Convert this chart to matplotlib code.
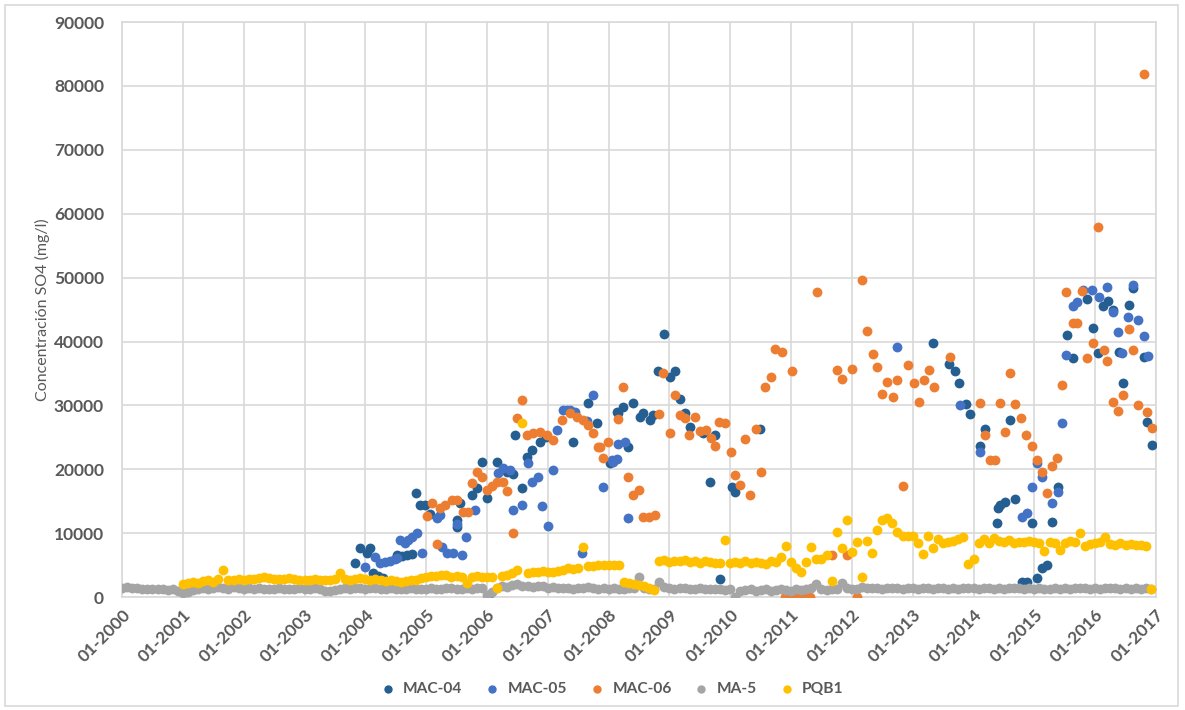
import numpy as np
import matplotlib
matplotlib.use('Agg')
import matplotlib.pyplot as plt
from matplotlib.patches import Rectangle

plt.rcParams['font.family'] = ['Lato', 'DejaVu Sans']

# MAC-04 (fecha en años decimales, SO4 mg/l)
mac04_t = [2003.83, 2003.91, 2004.03, 2004.08, 2004.13, 2004.21, 2004.29, 2004.52, 2004.60, 2004.69,
           2004.77, 2004.83, 2004.90, 2004.98, 2005.06, 2005.51, 2005.51, 2005.56, 2005.75, 2005.84,
           2005.92, 2006.00, 2006.17, 2006.33, 2006.43, 2006.46, 2006.58, 2006.66, 2006.74, 2006.87,
           2006.97, 2007.42, 2007.66, 2007.81, 2008.02, 2008.14, 2008.16, 2008.24, 2008.32, 2008.40,
           2008.52, 2008.57, 2008.68, 2008.73, 2008.81, 2008.91, 2009.01, 2009.09, 2009.17, 2009.26,
           2009.34, 2009.55, 2009.67, 2009.75, 2009.83, 2010.03, 2010.08, 2010.49, 2013.33, 2013.60,
           2013.70, 2013.76, 2013.88, 2013.94, 2014.11, 2014.19, 2014.39, 2014.40, 2014.44, 2014.52,
           2014.60, 2014.68, 2014.80, 2014.88, 2014.96, 2015.04, 2015.13, 2015.21, 2015.29, 2015.39,
           2015.54, 2015.64, 2015.87, 2015.97, 2016.05, 2016.13, 2016.21, 2016.29, 2016.39, 2016.46,
           2016.56, 2016.62, 2016.80, 2016.85, 2016.94]
mac04_v = [5300, 7700, 6900, 7700, 3800, 3300, 3000, 6600, 6500, 6600,
           6700, 16300, 14400, 14400, 13000, 11000, 12000, 14700, 16000, 17000,
           21100, 15500, 21100, 19600, 19300, 25300, 17000, 21900, 23000, 24300,
           25000, 24300, 30400, 27200, 21000, 29000, 28800, 29700, 23500, 30400,
           28200, 28800, 27700, 28500, 35400, 41200, 34400, 35400, 31000, 28800,
           26600, 25700, 18000, 25400, 2800, 17200, 16400, 26300, 39700, 36500,
           35400, 33500, 30200, 28600, 23600, 26300, 11600, 13900, 14400, 14900,
           27700, 15300, 2300, 2300, 11600, 3000, 4500, 5000, 11700, 17200,
           41000, 37400, 46600, 42100, 38200, 45500, 46300, 44900, 38300, 33500,
           45700, 48400, 37600, 27400, 23800]

# MAC-05
mac05_t = [2004.00, 2004.16, 2004.24, 2004.32, 2004.41, 2004.49, 2004.52, 2004.57, 2004.65, 2004.70,
           2004.77, 2004.85, 2004.93, 2005.18, 2005.23, 2005.26, 2005.34, 2005.44, 2005.51, 2005.59,
           2005.66, 2005.80, 2006.02, 2006.18, 2006.26, 2006.38, 2006.43, 2006.58, 2006.68, 2006.74,
           2006.84, 2006.91, 2007.00, 2007.09, 2007.15, 2007.25, 2007.32, 2007.37, 2007.45, 2007.56,
           2007.65, 2007.74, 2007.91, 2008.06, 2008.07, 2008.14, 2008.16, 2008.27, 2008.32, 2012.74,
           2013.78, 2014.11, 2014.80, 2014.88, 2014.96, 2015.04, 2015.13, 2015.29, 2015.39, 2015.46,
           2015.52, 2015.64, 2015.70, 2015.80, 2015.95, 2016.06, 2016.20, 2016.29, 2016.38, 2016.44,
           2016.54, 2016.62, 2016.71, 2016.80, 2016.87]
mac05_v = [4700, 6300, 5300, 5500, 5700, 6000, 6100, 8900, 8400, 9000,
           9400, 10000, 6900, 12400, 12800, 7800, 6900, 6900, 11500, 6600,
           9400, 13600, 0, 19400, 20200, 19900, 13600, 14400, 21000, 18000,
           18800, 14200, 11100, 19900, 26100, 29300, 29300, 29300, 29000, 6900,
           27500, 31600, 17200, 21400, 21100, 21600, 23900, 24300, 12400, 39100,
           30000, 22700, 12500, 13100, 17200, 21000, 18800, 14700, 16400, 27200,
           37900, 45500, 46200, 48000, 48000, 47000, 48500, 44600, 41500, 38200,
           43800, 48800, 43300, 40800, 37700]

# MAC-06
mac06_t = [2005.01, 2005.10, 2005.18, 2005.23, 2005.31, 2005.43, 2005.51, 2005.61, 2005.69, 2005.75,
           2005.84, 2005.92, 2006.00, 2006.08, 2006.17, 2006.26, 2006.33, 2006.43, 2006.49, 2006.58,
           2006.66, 2006.76, 2006.87, 2006.99, 2007.09, 2007.23, 2007.37, 2007.48, 2007.58, 2007.66,
           2007.74, 2007.83, 2007.86, 2007.91, 2007.99, 2008.16, 2008.24, 2008.32, 2008.40, 2008.50,
           2008.57, 2008.66, 2008.76, 2008.83, 2008.90, 2009.01, 2009.09, 2009.17, 2009.26, 2009.32,
           2009.42, 2009.50, 2009.60, 2009.68, 2009.75, 2009.82, 2009.91, 2010.01, 2010.08, 2010.16,
           2010.24, 2010.33, 2010.42, 2010.51, 2010.57, 2010.67, 2010.74, 2010.85, 2011.02, 2010.90,
           2010.98, 2011.07, 2011.15, 2011.23, 2011.31, 2011.43, 2011.67, 2011.92, 2011.76, 2011.84,
           2012.00, 2012.08, 2012.17, 2012.25, 2012.35, 2012.41, 2012.50, 2012.58, 2012.68, 2012.74,
           2012.84, 2012.92, 2013.02, 2013.10, 2013.19, 2013.27, 2013.35, 2013.61, 2014.11, 2014.19,
           2014.27, 2014.35, 2014.44, 2014.52, 2014.60, 2014.68, 2014.78, 2014.86, 2014.96, 2015.04,
           2015.13, 2015.21, 2015.29, 2015.37, 2015.46, 2015.52, 2015.64, 2015.70, 2015.78, 2015.87,
           2015.97, 2016.05, 2016.15, 2016.20, 2016.29, 2016.38, 2016.46, 2016.56, 2016.62, 2016.71,
           2016.80, 2016.85, 2016.94]
mac06_v = [12700, 14700, 8300, 14000, 14400, 15200, 15200, 13300, 13300, 17800,
           19600, 18800, 16700, 17400, 18000, 18000, 16600, 10000, 28000, 30800,
           25300, 25700, 25900, 25300, 24600, 27700, 28800, 28200, 27700, 26900,
           25700, 23500, 23500, 21800, 24300, 27900, 32900, 18800, 16000, 16700,
           12500, 12500, 12800, 28600, 35100, 25700, 31600, 28500, 28000, 25300,
           28200, 26000, 26100, 24900, 23600, 27400, 27200, 22700, 19100, 17500,
           24700, 16000, 26300, 19600, 32900, 34400, 38800, 38300, 35400, 0,
           0, 0, 0, 0, 0, 47800, 6600, 6600, 35500, 34100,
           35700, 0, 49600, 41600, 38000, 36000, 31800, 33600, 31300, 34000,
           17400, 36300, 33500, 30500, 34000, 35500, 32900, 37600, 30400, 25300,
           21400, 21400, 30400, 25800, 35100, 30200, 28000, 25300, 23600, 21400,
           19600, 16300, 20500, 21700, 33200, 47700, 42900, 42900, 47900, 37400,
           39700, 57900, 38700, 36900, 30500, 29100, 31600, 41900, 38700, 30000,
           81900, 29000, 26400]

# MA-5: mensual desde 01-2000
ma5_v = [1500, 1600, 1500, 1400, 1300, 1300, 1200, 1300, 1200, 1100, 1200, 1000,
         600, 800, 1100, 1300, 1500, 1200, 1400, 1600, 1500, 1300, 1600, 1400,
         1300, 1400, 1300, 1400, 1300, 1200, 1300, 1400, 1300, 1200, 1300, 1400,
         1300, 1200, 1400, 1300, 900, 1000, 1100, 1300, 1400, 1300, 1500, 1400,
         1300, 1500, 1400, 1300, 1200, 1400, 1300, 1200, 1300, 1400, 1300, 1200,
         1300, 1400, 1200, 1300, 1400, 1500, 1300, 1200, 1400, 1300, 1500, 1400,
         300, 800, 1500, 1700, 1600, 1900, 2000, 1800, 1700, 1600, 1800, 1700,
         1500, 1600, 1500, 1400, 1500, 1300, 1400, 1500, 1600, 1400, 1300, 1500,
         1300, 1400, 1300, 1200, 1400, 1500, 3100, 1500, 1300, 1200, 2300, 1600,
         1400, 1300, 1400, 1500, 1300, 1200, 1400, 1300, 1200, 1300, 1200, 1100,
         1200, 0, 1000, 1100, 1200, 1000, 1100, 1200, 1000, 1100, 1200, 1100,
         1000, 1200, 1100, 1300, 1500, 2000, 1300, 1100, 1200, 1300, 2200, 1400,
         1200, 1300, 1600, 1500, 1400, 1500, 1300, 1400, 1500, 1400, 1300, 1400,
         1400, 1300, 1500, 1400, 1300, 1400, 1500, 1300, 1400, 1300, 1400, 1500,
         1400, 1300, 1400, 1500, 1300, 1400, 1300, 1400, 1500, 1400, 1300, 1400,
         1300, 1400, 1200, 1300, 1400, 1300, 1400, 1300, 1400, 1500, 1400, 1300,
         1400, 1300, 1400, 1500, 1400, 1300, 1400, 1300, 1400, 1300, 1400, 1300]

# PQB1: mensual desde 01-2001
pqb1_v = [2000, 2200, 2300, 2200, 2500, 2600, 2400, 2800, 4200, 2700, 2600, 2800,
          2700, 2800, 2900, 3000, 3100, 3000, 2900, 2800, 2900, 3000, 2800, 2700,
          2600, 2700, 2800, 2700, 2600, 2700, 2900, 3700, 2800, 2700, 2900, 3000,
          2800, 2700, 2900, 2600, 2500, 2600, 2500, 2400, 2500, 2600, 2700, 3000,
          3200, 3300, 3300, 3400, 3400, 3200, 3300, 3100, 2200, 3200, 3300, 3200,
          3100, 3200, 1400, 3300, 3500, 3700, 4300, 27200, 3800, 3900, 4000, 4100,
          3900, 4000, 4100, 4300, 4500, 4400, 4600, 7800, 4800, 4900, 5000, 5100,
          5000, 5100, 5000, 2300, 2200, 2100, 1900, 1700, 1400, 1100, 5600, 5800,
          5500, 5700, 5600, 5800, 5500, 5600, 5400, 5700, 5500, 5300, 5400, 9000,
          5300, 5500, 5400, 5600, 5300, 5500, 5400, 5200, 5600, 5500, 6300, 8000,
          5500, 4500, 3900, 5500, 7800, 5900, 5900, 6600, 2500, 10200, 7700, 12000,
          7000, 8600, 3100, 8800, 6900, 10500, 12000, 12400, 11600, 10200, 9500, 9500,
          9500, 8500, 6700, 9500, 7700, 9100, 8500, 8600, 8800, 9100, 9400, 5200,
          5900, 8500, 9100, 8500, 9200, 8800, 8600, 8900, 8400, 8700, 8600, 8800,
          8700, 8400, 7200, 8600, 8500, 7300, 8400, 8800, 8600, 10000, 8000, 8300,
          8500, 8600, 9400, 8300, 8100, 8400, 8200, 8300, 8100, 8200, 8000, 1200]

years = list(range(2000, 2018))
year_labels = ['01-%d' % y for y in years]

ma5_t = 2000 + np.arange(len(ma5_v)) / 12
pqb1_t = 2001 + np.arange(len(pqb1_v)) / 12

series = [
    ('MAC-04', mac04_t, mac04_v, '#255E91'),
    ('MAC-05', mac05_t, mac05_v, '#4472C4'),
    ('MAC-06', mac06_t, mac06_v, '#ED7D31'),
    ('MA-5', ma5_t, ma5_v, '#A5A5A5'),
    ('PQB1', pqb1_t, pqb1_v, '#FFC000'),
]

gris = '#595959'

fig = plt.figure(figsize=(11.85, 7.10), dpi=100)
ax = fig.add_axes([0.103, 0.159, 0.8725, 0.810])

for nombre, t, v, c in series:
    ax.scatter(t, v, s=50, color=c, label=nombre, linewidths=0, zorder=3)

ax.set_xlim(2000, 2017)
ax.set_ylim(0, 90000)
ax.set_xticks(years)
ax.set_xticklabels(year_labels, rotation=45, ha='right', rotation_mode='anchor',
                   fontsize=12.5, fontweight='bold', color=gris)
ax.set_yticks(range(0, 90001, 10000))
ax.set_yticklabels([str(v) for v in range(0, 90001, 10000)],
                   fontsize=12.5, fontweight='bold', color=gris)
ax.tick_params(axis='both', length=0)
ax.tick_params(axis='y', pad=13)
ax.tick_params(axis='x', pad=7)
ax.grid(True, color='#D9D9D9', linewidth=1.2, zorder=0)
ax.set_axisbelow(True)
for s in ax.spines.values():
    s.set_color('#D9D9D9')
    s.set_linewidth(1.2)

ax.set_ylabel('Concentración SO4 (mg/l)', fontsize=11.5, color=gris)
ax.yaxis.set_label_coords(-0.07, 0.5)

leg = fig.legend(loc='center', bbox_to_anchor=(0.513, 0.029), ncol=5, frameon=False,
                 handletextpad=0.0, columnspacing=0.9, markerscale=0.85,
                 prop={'weight': 'bold', 'size': 11.2})
for txt in leg.get_texts():
    txt.set_color(gris)

fig.patches.append(Rectangle((0.004, 0.006), 0.99, 0.987, transform=fig.transFigure,
                             fill=False, edgecolor='#D9D9D9', linewidth=1.2))

fig.savefig('out.png', dpi=100)
